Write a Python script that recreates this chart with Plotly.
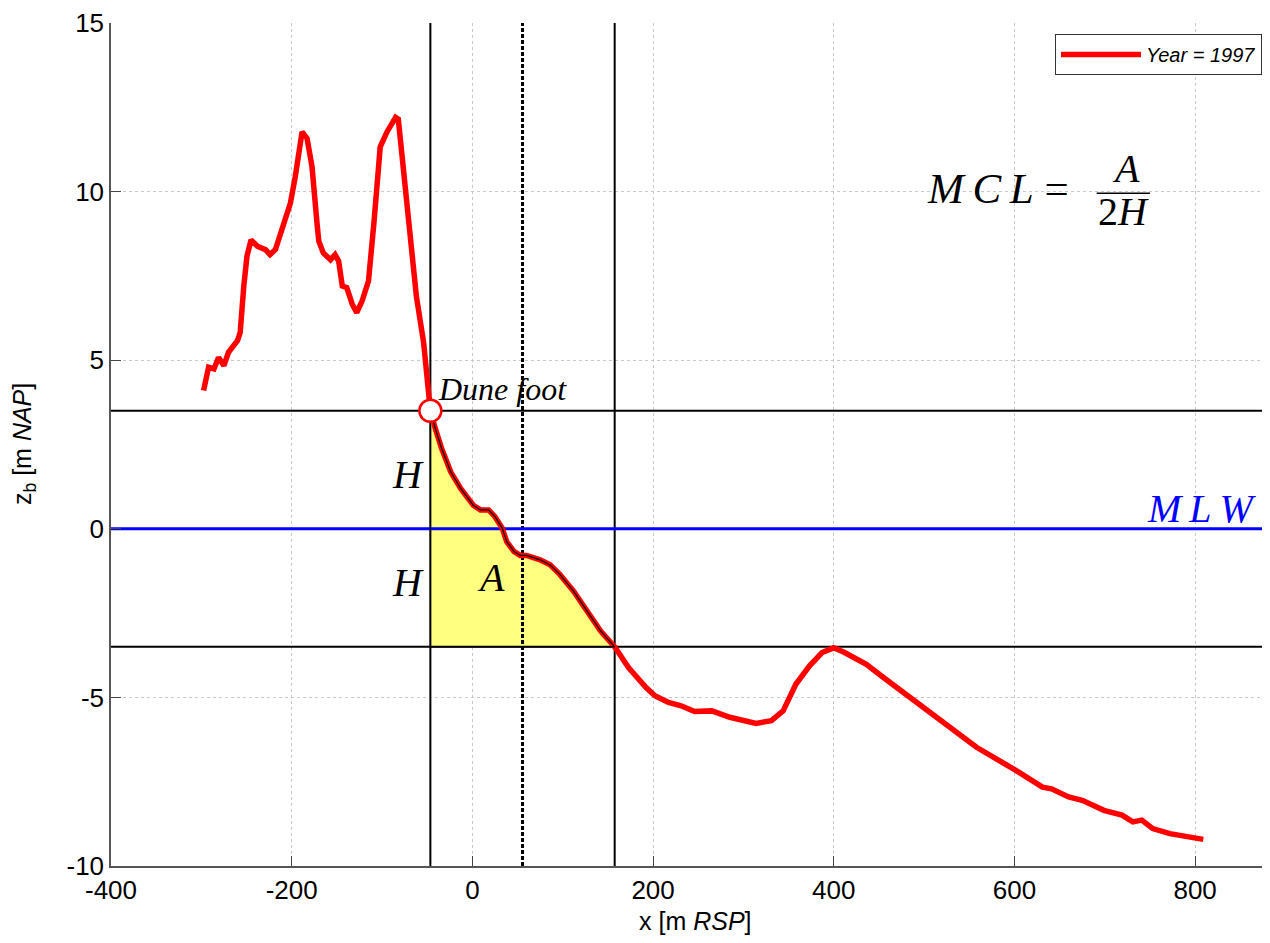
import plotly.graph_objects as go

# ---- data ----
x_profile = [-297.5, -292, -286, -281, -275, -270, -260, -257, -253, -249.5, -245, -238, -229, -224,
             -218, -212.5, -209, -201.5, -196, -188.5, -183, -177.5, -172, -170, -165, -157, -152,
             -148, -144, -139, -133, -128, -122, -115, -109, -102, -94.5, -85, -82, -76, -70.5, -62,
             -54, -48.5, -46.5,
             -41, -34, -24, -13, 1, 9, 18, 25, 33, 38, 46, 53, 60, 75, 86, 97, 112, 127, 142, 157.5,
             173, 192, 202, 217, 231, 246, 265, 285, 314, 331, 344, 358, 373, 387, 400, 412, 436, 455,
             475, 509, 533, 558, 602, 631, 641, 660, 675, 699, 719, 731, 741, 753, 772, 792, 809]
z_profile = [4.1, 4.79, 4.74, 5.08, 4.84, 5.23, 5.58, 5.82, 7.2, 8.08, 8.57, 8.38, 8.28, 8.13,
             8.28, 8.77, 9.07, 9.65, 10.45, 11.77, 11.58, 10.74, 9.07, 8.53, 8.18, 7.98, 8.13,
             7.94, 7.2, 7.15, 6.66, 6.41, 6.76, 7.35, 9.07, 11.33, 11.77, 12.2, 12.15, 10.6, 9.07, 6.9,
             5.53, 3.75, 3.5,
             2.97, 2.38, 1.69, 1.2, 0.7, 0.56, 0.56, 0.36, 0.02, -0.38, -0.67, -0.79, -0.79, -0.92,
             -1.07, -1.36, -1.85, -2.44, -3.03, -3.5,
             -4.12, -4.7, -4.95, -5.15, -5.25, -5.42, -5.40, -5.59, -5.77, -5.69, -5.40, -4.61, -4.07,
             -3.67, -3.53, -3.67, -4.02, -4.41, -4.81, -5.5, -5.99, -6.48, -7.17, -7.66, -7.71, -7.95,
             -8.05, -8.35, -8.49, -8.69, -8.64, -8.89, -9.04, -9.11, -9.21]

dunefoot_x = -46.5
H = 3.5              # dune foot height above MLW
mlw_z = 0.0
x_lower = 157.5      # where profile crosses MLW - H
x_center = 55.5      # centre of the MCL zone

x_ticks = [-400, -200, 0, 200, 400, 600, 800]
y_ticks = [-10, -5, 0, 5, 10, 15]
x_tick_labels = ["-400", "-200", "0", "200", "400", "600", "800"]
y_tick_labels = ["-10", "-5", "0", "5", "10", "15"]
x_range = [-400, 874]
y_range = [-10, 15]

# ---- derived: area A polygon ----
seg = [(x, z) for x, z in zip(x_profile, z_profile) if dunefoot_x <= x <= x_lower]
poly_x = [p[0] for p in seg] + [dunefoot_x, dunefoot_x]
poly_z = [p[1] for p in seg] + [mlw_z - H, mlw_z + H]

fig = go.Figure()

# yellow area
fig.add_trace(go.Scatter(x=poly_x, y=poly_z, fill="toself", fillcolor="#ffff80",
                         mode="lines", line=dict(width=0), showlegend=False, hoverinfo="skip"))
# reference lines
fig.add_trace(go.Scatter(x=[dunefoot_x, dunefoot_x], y=y_range, mode="lines",
                         line=dict(color="black", width=2), showlegend=False))
fig.add_trace(go.Scatter(x=[x_lower, x_lower], y=y_range, mode="lines",
                         line=dict(color="black", width=2), showlegend=False))
fig.add_trace(go.Scatter(x=[x_center, x_center], y=y_range, mode="lines",
                         line=dict(color="black", width=3, dash="4px,2px"), showlegend=False))
fig.add_trace(go.Scatter(x=x_range, y=[mlw_z + H, mlw_z + H], mode="lines",
                         line=dict(color="black", width=2), showlegend=False))
fig.add_trace(go.Scatter(x=x_range, y=[mlw_z - H, mlw_z - H], mode="lines",
                         line=dict(color="black", width=2), showlegend=False))
fig.add_trace(go.Scatter(x=x_range, y=[mlw_z, mlw_z], mode="lines",
                         line=dict(color="#0000ff", width=3), showlegend=False))
# profile
fig.add_trace(go.Scatter(x=x_profile, y=z_profile, mode="lines",
                         line=dict(color="#ff0000", width=5.5), name="<i>Year = 1997</i>"))
# outline of the area on top
fig.add_trace(go.Scatter(x=poly_x + [poly_x[0]], y=poly_z + [poly_z[0]], mode="lines",
                         line=dict(color="black", width=1.2), showlegend=False, hoverinfo="skip"))
# dune foot marker
fig.add_trace(go.Scatter(x=[dunefoot_x], y=[mlw_z + H], mode="markers",
                         marker=dict(size=22, color="white", line=dict(color="#ff0000", width=2.5)),
                         showlegend=False))

serif = "Liberation Serif"
ann = []
def txt(x, y, s, size, color="black", xanchor="center", yanchor="middle"):
    ann.append(dict(x=x, y=y, xref="x", yref="y", text=s, showarrow=False,
                    font=dict(family=serif, size=size, color=color),
                    xanchor=xanchor, yanchor=yanchor))

txt(582, 10.1, "<i>M&#8201;C&#8201;L</i> =", 43)
txt(723.5, 10.7, "<i>A</i>", 40)
txt(720.8, 9.4, "2<i>H</i>", 40)
txt(dunefoot_x + 6, 4.15, "<i>Dune foot</i>", 32, xanchor="left")
txt(dunefoot_x - 4.5, mlw_z + H / 2 - 0.15, "<i>H</i>", 40, xanchor="right")
txt(dunefoot_x - 4.5, mlw_z - H / 2 + 0.15, "<i>H</i>", 40, xanchor="right")
txt(20.6, -1.45, "<i>A</i>", 40)
txt(808, 0.6, "<i>M&#8201;L&#8201;W</i>", 40, color="#0000ff")

# axis titles
ann.append(dict(x=0.5082, y=-0.0655, xref="paper", yref="paper", showarrow=False,
                text="x [m <i>RSP</i>]", font=dict(family="Liberation Sans", size=25, color="black"),
                xanchor="center", yanchor="middle"))
ann.append(dict(x=-0.076, y=0.5, xref="paper", yref="paper", showarrow=False, textangle=-90,
                text="z<sub>b</sub> [m <i>NAP</i>]", font=dict(family="Liberation Sans", size=25, color="black"),
                xanchor="center", yanchor="middle"))

shapes = [dict(type="line", xref="x", yref="y", x0=691, x1=750, y0=9.95, y1=9.95,
               line=dict(color="black", width=1.5))]

axis_common = dict(showgrid=True, gridcolor="#c8c8c8", griddash="dot", gridwidth=1,
                   zeroline=False, showline=True, linecolor="#555555", linewidth=1.5,
                   ticks="inside", ticklen=10, tickcolor="#444444", tickwidth=1.2,
                   ticklabeloverflow="allow",
                   tickfont=dict(family="Liberation Sans", size=26, color="black"))

fig.update_layout(
    width=1254, height=927,
    margin=dict(l=103, r=0, t=11, b=69),
    paper_bgcolor="white", plot_bgcolor="white",
    xaxis=dict(range=x_range, tickvals=x_ticks, ticktext=x_tick_labels, **axis_common),
    yaxis=dict(range=y_range, tickvals=y_ticks, ticktext=y_tick_labels, **axis_common),
    annotations=ann, shapes=shapes,
    legend=dict(x=1, xanchor="right", y=0.987, yanchor="top", bgcolor="white",
                bordercolor="#333333", borderwidth=1, itemwidth=80,
                font=dict(family="Liberation Sans", size=20, color="black")),
    showlegend=True,
)

fig.write_html("out.html")
